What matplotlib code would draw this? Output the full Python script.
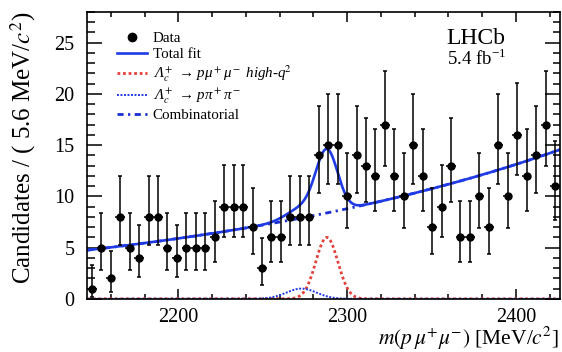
#!/usr/bin/env python3

import math
import numpy as np
import matplotlib
matplotlib.use('Agg')
import matplotlib.pyplot as plt
from matplotlib.lines import Line2D
from matplotlib.ticker import MultipleLocator

# binning of the m(p mu mu) histogram
M_LOW = 2146.0
M_HIGH = 2426.0
BIN_WIDTH = 5.6

# candidates per bin
COUNTS = [1, 5, 2, 8, 5, 4, 8, 8, 5, 4, 5, 5, 5, 6, 9, 9, 9,
          7, 3, 6, 6, 8, 8, 8, 14, 15, 15, 10, 14, 13, 12, 17,
          12, 10, 15, 12, 7, 9, 13, 6, 6, 10, 7, 15, 10, 16, 12, 14, 17, 11]

# fit components
BKG_AT_LOW = 4.75      # combinatorial yield / bin at M_LOW
BKG_SLOPE = 0.004      # exponential slope, 1/MeV
SIG_MEAN = 2288.0
SIG_SIGMA = 6.5
SIG_HEIGHT = 6.0
PIPI_MEAN = 2273.0
PIPI_SIGMA = 9.0
PIPI_HEIGHT = 1.0

BLUE = '#1f3be6'
RED = '#e5403a'

plt.rcParams['font.family'] = ['Liberation Serif', 'DejaVu Serif']
plt.rcParams['mathtext.fontset'] = 'stix'


def poisson_cdf(k, mu):
    return sum(math.exp(-mu) * mu ** i / math.factorial(i) for i in range(k + 1))


def bisect(f, lo, hi):
    for _ in range(60):
        mid = 0.5 * (lo + hi)
        if f(lo) * f(mid) <= 0:
            hi = mid
        else:
            lo = mid
    return 0.5 * (lo + hi)


def poisson_interval(n, tail=0.158655):
    # classic central 68% interval for a Poisson count
    if n == 0:
        low = 0.0
    else:
        low = bisect(lambda mu: 1 - poisson_cdf(n - 1, mu) - tail, 0.0, n)
    up = bisect(lambda mu: poisson_cdf(n, mu) - tail, n, n + 10 * math.sqrt(n + 1) + 10)
    return n - low, up - n


def gauss(x, mean, sigma, height):
    return height * np.exp(-0.5 * ((x - mean) / sigma) ** 2)


counts = np.array(COUNTS, dtype=float)
centers = M_LOW + BIN_WIDTH * (np.arange(len(COUNTS)) + 0.5)
errs = np.array([poisson_interval(n) for n in COUNTS]).T

m = np.linspace(M_LOW, M_HIGH, 1000)
comb = BKG_AT_LOW * np.exp(BKG_SLOPE * (m - M_LOW))
sig = gauss(m, SIG_MEAN, SIG_SIGMA, SIG_HEIGHT)
pipi = gauss(m, PIPI_MEAN, PIPI_SIGMA, PIPI_HEIGHT)
total = comb + sig + pipi

fig = plt.figure(figsize=(5.62, 3.52), dpi=100)
ax = fig.add_axes([0.155, 0.151, 0.841, 0.815])

ax.plot(m, sig, color=RED, lw=2.0, ls=(0, (1, 1)))
ax.plot(m, pipi, color=BLUE, lw=1.4, ls=(0, (1, 0.8)))
ax.plot(m, comb, color='#1a30d0', lw=2.0, ls=(0, (2.2, 1.6, 0.8, 1.6)))
ax.plot(m, total, color=BLUE, lw=1.9)

ax.errorbar(centers, counts, xerr=BIN_WIDTH / 2, fmt='none', ecolor='black',
            elinewidth=1.1, capsize=0)
ax.errorbar(centers, counts, yerr=errs, fmt='o', color='black', ms=5,
            elinewidth=1.1, capsize=1.6, capthick=1.1)

ax.set_xlim(M_LOW, M_HIGH)
ax.set_ylim(0, 28)
ax.xaxis.set_major_locator(MultipleLocator(100))
ax.xaxis.set_minor_locator(MultipleLocator(20))
ax.yaxis.set_major_locator(MultipleLocator(5))
ax.yaxis.set_minor_locator(MultipleLocator(1))
ax.tick_params(which='both', direction='in', top=True, right=True, width=1.1,
               labelsize=14.5)
ax.tick_params(axis='x', which='major', length=7, pad=6.5)
ax.tick_params(axis='x', which='minor', length=3.8)
ax.tick_params(axis='y', which='major', length=10.8, pad=9)
ax.tick_params(axis='y', which='minor', length=5.4)
for sp in ax.spines.values():
    sp.set_linewidth(1.2)

ax.set_xlabel(r'$m(p\,\mu^{+}\mu^{-})$ [MeV/$c^{2}$]', fontsize=15.5, loc='right')
ax.xaxis.set_label_coords(0.998, -0.091)
ax.set_ylabel(r'Candidates / ( 5.6 MeV/$c^{2}$)', fontsize=18, loc='top')
ax.yaxis.set_label_coords(-0.104, 1.003)

ax.text(0.761, 0.906, 'LHCb', transform=ax.transAxes, fontsize=17,
        ha='left', va='center')
ax.text(0.761, 0.836, r'5.4 fb$^{\mathregular{-1}}$', transform=ax.transAxes,
        fontsize=13.5, ha='left', va='center')

handles = [
    Line2D([], [], color='black', marker='o', ms=6, ls='none'),
    Line2D([], [], color=BLUE, lw=1.9),
    Line2D([], [], color=RED, lw=2.0, ls=(0, (1, 1))),
    Line2D([], [], color=BLUE, lw=1.4, ls=(0, (1, 0.8))),
    Line2D([], [], color='#1a30d0', lw=2.0, ls=(0, (2.2, 1.6, 0.8, 1.6))),
]
labels = [
    'Data',
    'Total fit',
    'Λ$_c^+$ → pμ$^+$μ$^-$ high-q$^2$',
    'Λ$_c^+$ → pπ$^+$π$^-$',
    'Combinatorial',
]
leg = ax.legend(handles, labels, loc='upper left', bbox_to_anchor=(0.047, 0.958),
                frameon=False, fontsize=10.8, handlelength=2.0, handletextpad=0.4,
                borderpad=0, labelspacing=0.17)
for t in leg.get_texts()[2:4]:
    t.set_fontstyle('italic')

fig.savefig('out.png', dpi=100)
